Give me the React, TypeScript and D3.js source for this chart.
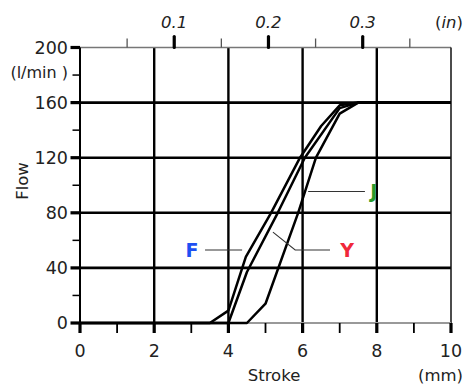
import React from "react";
import * as d3 from "d3";

const xTicksMajor = [0, 2, 4, 6, 8, 10];
const xTicksMinor = [1, 3, 5, 7, 9];
const yTicksMajor = [0, 40, 80, 120, 160, 200];
const yTicksMinor = [20, 60, 100, 140, 180];
const inchMajor = [0.1, 0.2, 0.3];
const inchMinor = [0.05, 0.15, 0.25, 0.35];
const gridX = [2, 4, 6, 8];
const gridY = [40, 80, 120, 160];

const seriesF: [number, number][] = [[0, 0], [3.5, 0], [4.0, 9], [4.47, 48], [5.15, 80], [5.93, 120], [6.5, 143], [7.0, 158], [7.5, 160], [10, 160]];
const seriesY: [number, number][] = [[0, 0], [4.0, 0], [4.5, 37], [5.33, 80], [6.06, 120], [7.0, 156], [7.5, 160], [10, 160]];
const seriesJ: [number, number][] = [[0, 0], [4.5, 0], [5.0, 14], [5.88, 80], [6.36, 120], [7.0, 152], [7.5, 160], [10, 160]];

const labels = [
  { name: "F", color: "#1e4ff2", x: 3.02, y: 53, leader: [[3.37, 53], [4.37, 53]] },
  { name: "Y", color: "#f0283a", x: 7.2, y: 53, leader: [[6.74, 53], [5.8, 53], [5.2, 66]] },
  { name: "J", color: "#2b9b2b", x: 7.92, y: 95.5, leader: [[6.15, 95.5], [7.68, 95.5]] },
];

const FONT = "'DejaVu Sans', sans-serif";

export default function App() {
  const x = d3.scaleLinear().domain([0, 10]).range([80, 451]);
  const y = d3.scaleLinear().domain([0, 200]).range([323, 47.5]);
  const xin = (v: number) => x(v * 25.4);
  const line = d3.line<[number, number]>().x((d) => x(d[0])).y((d) => y(d[1]));
  const lead = d3.line<number[]>().x((d) => x(d[0])).y((d) => y(d[1]));

  return (
    <svg width={465} height={388} style={{ position: "absolute", left: 0, top: 0 }} fontFamily={FONT}>
      <rect width={465} height={388} fill="#fff" />
      {/* grid */}
      {gridX.map((v) => (
        <line key={"gx" + v} x1={x(v)} x2={x(v)} y1={y(200)} y2={y(0)} stroke="#000" strokeWidth={2.4} />
      ))}
      {gridY.map((v) => (
        <line key={"gy" + v} x1={x(0)} x2={x(10)} y1={y(v)} y2={y(v)} stroke="#000" strokeWidth={2.6} />
      ))}
      {/* frame */}
      <line x1={x(0)} x2={x(10)} y1={y(200)} y2={y(200)} stroke="#777" strokeWidth={1.5} />
      <line x1={x(10)} x2={x(10)} y1={y(200)} y2={y(0)} stroke="#111" strokeWidth={1.5} />
      <line x1={x(0)} x2={x(10)} y1={y(0)} y2={y(0)} stroke="#999" strokeWidth={2} />
      <line x1={x(0)} x2={x(0)} y1={y(200)} y2={y(0) + 2} stroke="#000" strokeWidth={2} />

      {/* y ticks */}
      {yTicksMajor.map((v) => (
        <g key={"yt" + v}>
          <line x1={70.5} x2={x(0)} y1={y(v)} y2={y(v)} stroke="#000" strokeWidth={3.2} />
          <text x={68} y={y(v)} dy="0.36em" textAnchor="end" fontSize={17.5} fill="#222">{v}</text>
        </g>
      ))}
      {yTicksMinor.map((v) => (
        <line key={"ym" + v} x1={72.5} x2={x(0)} y1={y(v)} y2={y(v)} stroke="#000" strokeWidth={1.5} />
      ))}
      <text x={68} y={72} dy="0.36em" textAnchor="end" fontSize={16} fill="#222">(l/min )</text>
      <text transform={`translate(28,181) rotate(-90)`} textAnchor="middle" fontSize={16.5} fill="#222">Flow</text>

      {/* x ticks */}
      {xTicksMajor.map((v) => (
        <g key={"xt" + v}>
          <line x1={x(v)} x2={x(v)} y1={y(0)} y2={333} stroke="#000" strokeWidth={3.2} />
          <text x={x(v)} y={357} textAnchor="middle" fontSize={17.5} fill="#222">{v}</text>
        </g>
      ))}
      {xTicksMinor.map((v) => (
        <line key={"xm" + v} x1={x(v)} x2={x(v)} y1={y(0)} y2={333} stroke="#000" strokeWidth={1.8} />
      ))}
      <text x={274} y={381} textAnchor="middle" fontSize={16.5} fill="#222">Stroke</text>
      <text x={463} y={381} textAnchor="end" fontSize={16.5} fill="#222">(mm)</text>

      {/* top inch axis */}
      {inchMajor.map((v) => (
        <g key={"it" + v}>
          <line x1={xin(v)} x2={xin(v)} y1={36.5} y2={y(200)} stroke="#000" strokeWidth={3.2} strokeLinecap="round" />
          <text x={xin(v)} y={28} textAnchor="middle" fontSize={16.5} fontStyle="italic" fill="#222">{v.toFixed(1)}</text>
        </g>
      ))}
      {inchMinor.map((v) => (
        <line key={"im" + v} x1={xin(v)} x2={xin(v)} y1={38.5} y2={y(200)} stroke="#555" strokeWidth={1.3} />
      ))}
      <text x={463} y={28} textAnchor="end" fontSize={16.5} fill="#222">
        (<tspan fontStyle="italic">in</tspan>)
      </text>

      {/* curves */}
      {[seriesF, seriesY, seriesJ].map((s, i) => (
        <path key={"s" + i} d={line(s) || ""} fill="none" stroke="#000" strokeWidth={2.5} strokeLinejoin="round" />
      ))}

      {/* labels */}
      {labels.map((l) => (
        <g key={l.name}>
          <path d={lead(l.leader) || ""} fill="none" stroke="#333" strokeWidth={1.1} />
          <text x={x(l.x)} y={y(l.y)} dy="0.36em" textAnchor="middle" fontSize={19} fontWeight="bold" fill={l.color}>{l.name}</text>
        </g>
      ))}
    </svg>
  );
}
